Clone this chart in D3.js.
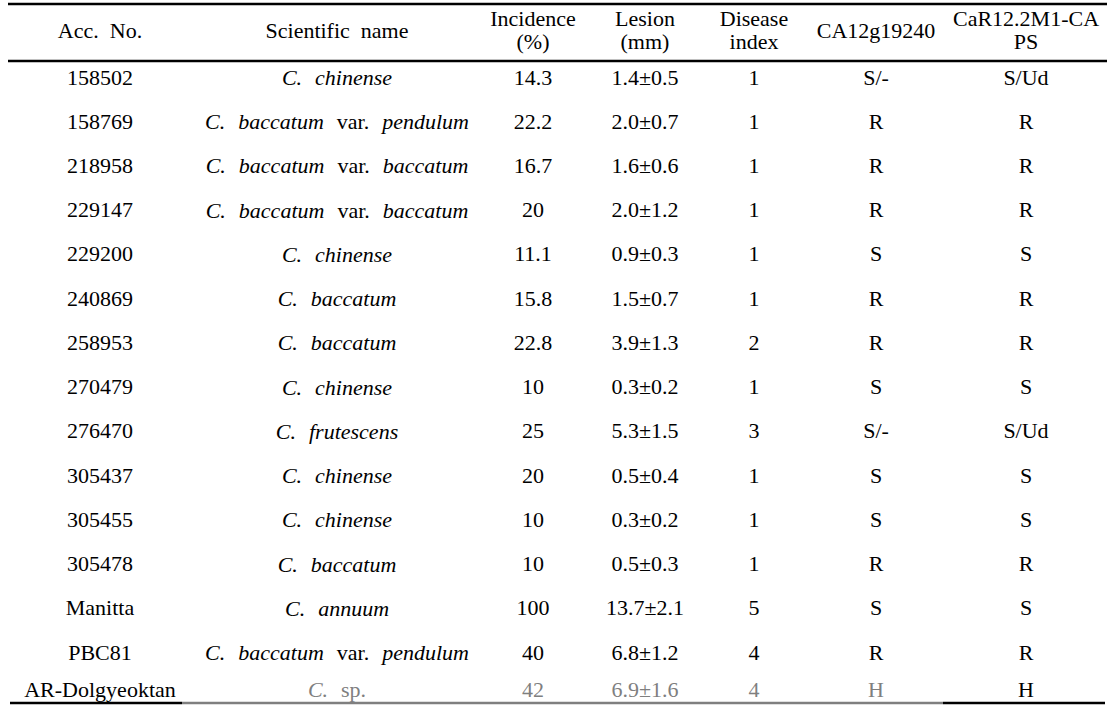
<!DOCTYPE html>
<html><head><meta charset="utf-8">
<script src="https://cdn.jsdelivr.net/npm/d3@7"></script>
<style>
html,body{margin:0;padding:0;background:#fff;}
</style></head>
<body><svg id="c" width="1118" height="718"></svg>
<script>
const headers = [["Acc.  No."],["Scientific  name"],["Incidence","(%)"],["Lesion","(mm)"],["Disease","index"],["CA12g19240"],["CaR12.2M1-CA","PS"]];
const accNo = ["158502","158769","218958","229147","229200","240869","258953","270479","276470","305437","305455","305478","Manitta","PBC81","AR-Dolgyeoktan"];
const sciName = ["C. chinense","C. baccatum var. pendulum","C. baccatum var. baccatum","C. baccatum var. baccatum","C. chinense","C. baccatum","C. baccatum","C. chinense","C. frutescens","C. chinense","C. chinense","C. baccatum","C. annuum","C. baccatum var. pendulum","C. sp."];
const incidence = ["14.3","22.2","16.7","20","11.1","15.8","22.8","10","25","20","10","10","100","40","42"];
const lesion = ["1.4±0.5","2.0±0.7","1.6±0.6","2.0±1.2","0.9±0.3","1.5±0.7","3.9±1.3","0.3±0.2","5.3±1.5","0.5±0.4","0.3±0.2","0.5±0.3","13.7±2.1","6.8±1.2","6.9±1.6"];
const diseaseIndex = ["1","1","1","1","1","1","2","1","3","1","1","1","5","4","4"];
const ca12g19240 = ["S/-","R","R","R","S","R","R","S","S/-","S","S","R","S","R","H"];
const caps = ["S/Ud","R","R","R","S","R","R","S","S/Ud","S","S","R","S","R","H"];

const FONT = "'Liberation Serif', 'Times New Roman', Times, 'DejaVu Serif', serif";
const svg = d3.select("#c").attr("font-family", FONT).attr("font-size", 22);
const colCenters = [100, 337, 533, 645, 754, 876, 1026];
const colX = i => colCenters[i];
const y = d3.scaleLinear().domain([0,13]).range([77,652]);
const rowY = i => i < 14 ? y(i) : 689;
const gray = "#7f7f7f";

// header
headers.forEach((h,i)=>{
  const t = svg.append("text").attr("text-anchor","middle").attr("x",colX(i)).attr("xml:space","preserve")
    .attr("font-family",FONT).attr("fill","#000");
  if(h.length===1){ t.attr("y",30).attr("dominant-baseline","central").text(h[0]); }
  else {
    t.append("tspan").attr("x",colX(i)).attr("y",18).attr("dominant-baseline","central").text(h[0]);
    t.append("tspan").attr("x",colX(i)).attr("y",41).attr("dominant-baseline","central").text(h[1]);
  }
});

const cols = [accNo, sciName, incidence, lesion, diseaseIndex, ca12g19240, caps];
accNo.forEach((_,r)=>{
  cols.forEach((col,c)=>{
    const last = r===accNo.length-1;
    const fill = (last && c>0 && c<6) ? gray : "#000";
    const t = svg.append("text").attr("text-anchor","middle").attr("x",colX(c)).attr("y",rowY(r))
      .attr("dominant-baseline","central").attr("font-family",FONT).attr("fill",fill);
    if(c===1){
      const words = col[r].split(" ");
      words.forEach((w,k)=>{
        const roman = (w==="var." || w==="sp.");
        t.append("tspan").attr("dx", k>0 ? 13 : 0).attr("font-style", roman?"normal":"italic").attr("fill",fill).text(w);
      });
    } else {
      t.text(col[r]);
    }
  });
});

// rules
svg.append("line").attr("x1",8).attr("x2",1107).attr("y1",4).attr("y2",4).attr("stroke","#000").attr("stroke-width",2.5);
svg.append("line").attr("x1",8).attr("x2",1107).attr("y1",61).attr("y2",61).attr("stroke","#000").attr("stroke-width",2.5);
svg.append("line").attr("x1",10).attr("x2",182).attr("y1",703).attr("y2",703).attr("stroke","#000").attr("stroke-width",2.5);
svg.append("line").attr("x1",182).attr("x2",943).attr("y1",703).attr("y2",703).attr("stroke",gray).attr("stroke-width",2.5);
svg.append("line").attr("x1",943).attr("x2",1105).attr("y1",703).attr("y2",703).attr("stroke","#000").attr("stroke-width",2.5);
</script></body></html>
